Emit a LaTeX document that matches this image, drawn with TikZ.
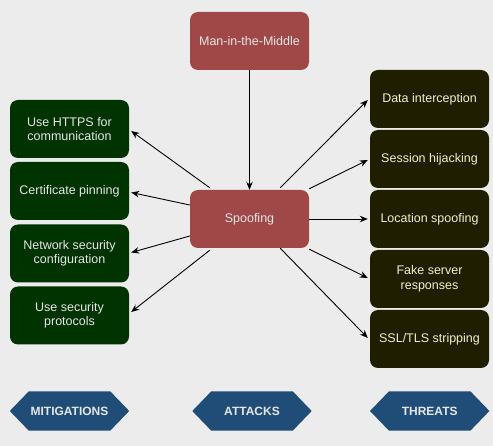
\documentclass[tikz,border=0pt]{standalone}
\usepackage{fontspec}
\setmainfont{Liberation Sans}
\usetikzlibrary{calc,arrows.meta,backgrounds}
\definecolor{bg}{HTML}{ECECEC}
\definecolor{redbox}{HTML}{A04848}
\definecolor{greenbox}{HTML}{003300}
\definecolor{darkbox}{HTML}{1F1F00}
\definecolor{hexblue}{HTML}{1F4D78}
\definecolor{lighttext}{HTML}{E6E6E6}
\definecolor{yeltext}{HTML}{F0F0D2}
\begin{document}
\begin{tikzpicture}[x=1pt,y=1pt,
  basebox/.style={rounded corners=8pt, minimum width=119pt, minimum height=58pt, inner sep=2pt,
    align=center, font=\fontsize{12.5}{14.5}\selectfont},
  redb/.style={basebox, fill=redbox, text=lighttext},
  greenb/.style={basebox, fill=greenbox, text=lighttext},
  darkb/.style={basebox, fill=darkbox, text=yeltext},
  hexlabel/.style={minimum width=81pt, minimum height=39pt, inner sep=0pt,
    text=lighttext, font=\bfseries\fontsize{12}{14}\selectfont},
  conn/.style={draw=black, line width=0.9pt, -{Stealth[length=8pt,width=6.5pt]}}
]
\useasboundingbox (0,0) rectangle (493,-446);
\begin{scope}[on background layer]
\fill[bg] (0,0) rectangle (493,-446);
\end{scope}

\node[redb] (mitm) at (249.5,-41) {Man-in-the-Middle};
\node[redb] (spoof) at (249.5,-219) {Spoofing};

\node[greenb] (l1) at (69.5,-129) {Use HTTPS for\\communication};
\node[greenb] (l2) at (69.5,-191) {Certificate pinning};
\node[greenb] (l3) at (69.5,-253.5) {Network security\\configuration};
\node[greenb] (l4) at (69.5,-315.5) {Use security\\protocols};

\node[darkb] (r1) at (429.5,-99) {Data interception};
\node[darkb] (r2) at (429.5,-159) {Session hijacking};
\node[darkb] (r3) at (429.5,-219) {Location spoofing};
\node[darkb] (r4) at (429.5,-279) {Fake server\\responses};
\node[darkb] (r5) at (429.5,-339) {SSL/TLS stripping};

\draw[conn] (mitm.south) -- (spoof.north);

\draw[conn] ($(spoof.north west)+(20,2)$) -- ($(l1.east)+(2,-2)$);
\draw[conn] ($(spoof.west)+(0,14)$) -- ($(l2.east)+(2,-1.5)$);
\draw[conn] ($(spoof.west)+(0,-17)$) -- ($(l3.east)+(2,1)$);
\draw[conn] ($(spoof.south west)+(20,-2)$) -- ($(l4.east)+(2,3.5)$);

\draw[conn] ($(spoof.north east)+(-29,2)$) -- ($(r1.west)+(-2,-1)$);
\draw[conn] ($(spoof.north east)+(0,1)$) -- ($(r2.west)+(-2,-1)$);
\draw[conn] (spoof.east) -- ($(r3.west)+(-2,0)$);
\draw[conn] ($(spoof.south east)+(0,-1)$) -- ($(r4.west)+(-2,1)$);
\draw[conn] ($(spoof.south east)+(-29,0)$) -- ($(r5.west)+(-2,1)$);

\node[hexlabel] (mit) at (69.5,-411) {MITIGATIONS};
\node[hexlabel] (att) at (252,-411) {ATTACKS};
\node[hexlabel] (thr) at (429.7,-411) {THREATS};
\begin{scope}[on background layer]
\foreach \h in {mit,att,thr}{
  \fill[hexblue] (\h.north west) -- (\h.north east) -- ($(\h.east)+(19,0)$) -- (\h.south east)
    -- (\h.south west) -- ($(\h.west)+(-19,0)$) -- cycle;
}
\end{scope}
\end{tikzpicture}
\end{document}
